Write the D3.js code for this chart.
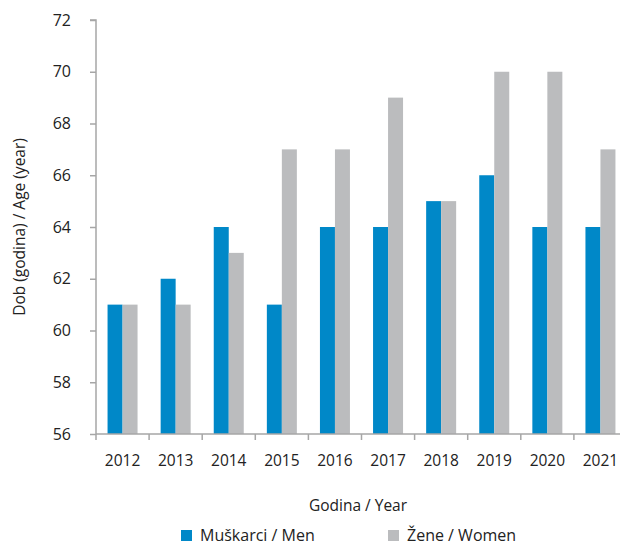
<!DOCTYPE html>
<html>
<head>
<meta charset="utf-8">
<script src="https://cdn.jsdelivr.net/npm/d3@7"></script>
<style>
	body { margin: 0; background: #fff; }
	svg text { font-family: "Open Sans", sans-serif; fill: #222; }
</style>
</head>
<body>
<svg id="chart" width="620" height="547"></svg>
<script>
var years = ["2012", "2013", "2014", "2015", "2016", "2017", "2018", "2019", "2020", "2021"];
var men = [61, 62, 64, 61, 64, 64, 65, 66, 64, 64];
var women = [61, 61, 63, 67, 67, 69, 65, 70, 70, 67];
var yTicks = [56, 58, 60, 62, 64, 66, 68, 70, 72];
var seriesNames = ["Muškarci / Men", "Žene / Women"];
var seriesColors = ["#0088C8", "#BBBCBE"];

var svg = d3.select("#chart");
var plot = { left: 96, right: 627, top: 20, bottom: 434 };

var x = d3.scaleBand().domain(years).range([plot.left, plot.right]).paddingInner(0).paddingOuter(0);
var inner = d3.scaleBand().domain([0, 1]).range([0, x.bandwidth()]).paddingOuter(0.77).paddingInner(0);
var y = d3.scaleLinear().domain([56, 72]).range([plot.bottom, plot.top]);

// bars
[men, women].forEach(function(vals, s) {
	svg.append("g").selectAll("rect")
		.data(vals)
		.enter().append("rect")
		.attr("x", function(d, i) { return x(years[i]) + inner(s); })
		.attr("width", inner.bandwidth())
		.attr("y", function(d) { return y(d); })
		.attr("height", function(d) { return y(56) - y(d); })
		.attr("fill", seriesColors[s]);
});

// y axis
var yAxis = svg.append("g")
	.attr("transform", "translate(" + plot.left + ",0)")
	.call(d3.axisLeft(y).tickValues(yTicks).tickSize(6).tickPadding(19));
yAxis.selectAll("text").style("font-size", "16px");

// x axis
var xAxis = svg.append("g")
	.attr("transform", "translate(0," + plot.bottom + ")")
	.call(d3.axisBottom(x).tickSize(0).tickPadding(21));
xAxis.selectAll("text").style("font-size", "15.5px");
xAxis.selectAll(".tick").append("line")
	.attr("x1", -x.bandwidth() / 2).attr("x2", -x.bandwidth() / 2)
	.attr("y1", 0).attr("y2", 6);

svg.selectAll(".domain, .tick line").attr("stroke", "#A6A6A6").attr("stroke-width", 1.5);
yAxis.select(".domain").attr("d", "M-6," + plot.top + "H0V" + plot.bottom);
xAxis.select(".domain").attr("d", "M" + plot.left + ",0H" + plot.right);

// axis titles
svg.append("text")
	.attr("transform", "translate(25," + ((plot.top + plot.bottom) / 2) + ") rotate(-90)")
	.attr("text-anchor", "middle")
	.style("font-size", "15.5px")
	.text("Dob (godina) / Age (year)");

svg.append("text")
	.attr("x", 358).attr("y", 511)
	.attr("text-anchor", "middle")
	.style("font-size", "15.5px")
	.text("Godina / Year");

// legend
var legend = svg.append("g").selectAll("g")
	.data(seriesNames)
	.enter().append("g")
	.attr("transform", function(d, i) { return "translate(" + (181 + i * 207) + ",530)"; });
legend.append("rect").attr("width", 11).attr("height", 11)
	.attr("fill", function(d, i) { return seriesColors[i]; });
legend.append("text").attr("x", 19).attr("y", 11)
	.style("font-size", "16px")
	.text(function(d) { return d; });
</script>
</body>
</html>
